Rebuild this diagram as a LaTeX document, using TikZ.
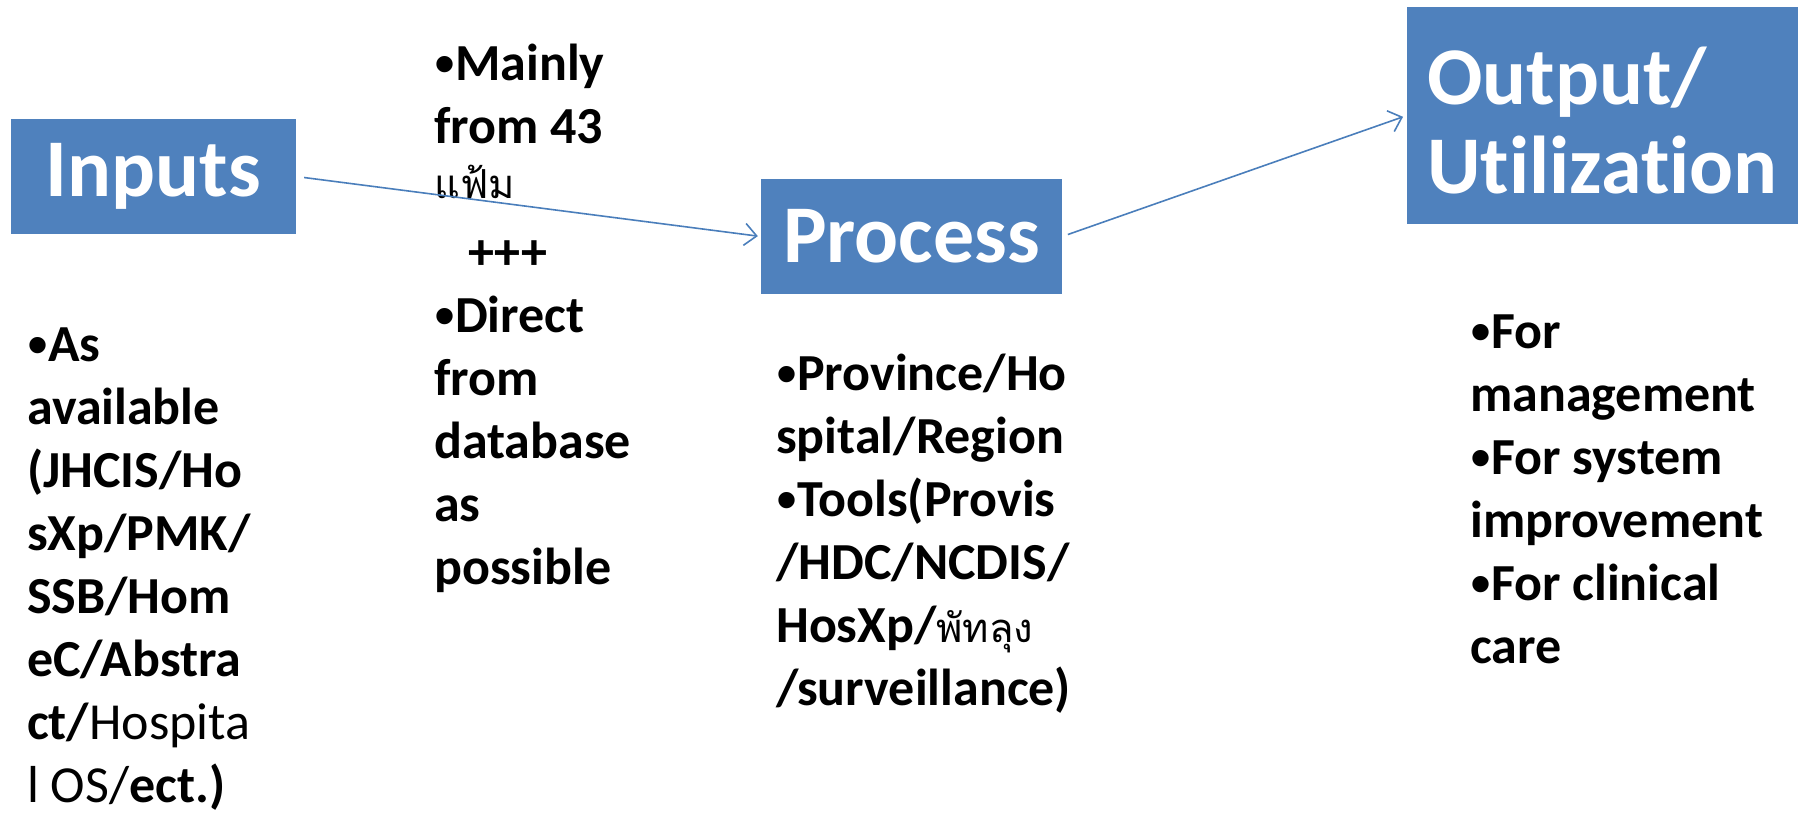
\documentclass[tikz,border=0pt]{standalone}
\usepackage{fontspec}
\setmainfont{Carlito}[Ligatures=NoCommon]
\newfontfamily\bulletfont{Liberation Sans}
\newfontfamily\thai[Script=Thai]{Loma}
\usetikzlibrary{arrows.meta}
\definecolor{boxblue}{HTML}{4F81BD}
\definecolor{lineblue}{HTML}{4A7EBB}
\tikzset{
 titlebox/.style={fill=boxblue, draw=none, text=white, font=\fontsize{82}{89}\selectfont\bfseries, align=left, inner sep=0pt},
 titletext/.style={text=white, font=\fontsize{82}{89}\selectfont\bfseries, align=left, inner sep=0pt},
 bullettext/.style={anchor=base west, inner sep=0pt, font=\fontsize{52}{63}\selectfont\bfseries},
 flow/.style={draw=lineblue, line width=1.6pt, -{Straight Barb[length=12pt,width=22pt,line width=1.6pt]}},
}
\newcommand\mylines[1]{\vtop{\baselineskip=63pt\lineskiplimit=-200pt\lineskip=0pt #1}}
\newcommand\thaitext[1]{{\thai\mdseries\fontsize{40}{42}\selectfont #1}}
\newcommand\bul{\raisebox{-4pt}{\bulletfont\mdseries\fontsize{60}{63}\selectfont •}}
\begin{document}
\begin{tikzpicture}[x=1pt,y=-1pt]
\useasboundingbox (0,0) rectangle (1800,812);
\node[titlebox, minimum width=285pt, minimum height=115pt] (inputs) at (153.5,176.5) {Inputs};
\node[titlebox, minimum width=301pt, minimum height=115pt] (process) at (911.5,236.5) {Process};
\node[titlebox, minimum width=391pt, minimum height=217pt] (output) at (1602.5,115.5) {};
\node[titletext] (outputlabel) at ([yshift=-5pt]output.center) {Output/\\Utilization};

\node[bullettext] (intext) at (27,361) {\mylines{%
\hbox{\bul As}\hbox{available}\hbox{(JHCIS/Ho}\hbox{sXp/PMK/}\hbox{SSB/Hom}\hbox{eC/Abstra}%
\hbox{ct/{\mdseries Hospita}}\hbox{{\mdseries l OS/}ect.)}}};

\node[bullettext] (source) at (434,80) {\mylines{%
\hbox{\bul Mainly}\hbox{from 43}\hbox{\raisebox{8pt}{\thaitext{แฟ้ม}}}\hbox{\hspace{34pt}+++}\hbox{\bul Direct}\hbox{from}\hbox{database}\hbox{as}\hbox{possible}}};

\node[bullettext] (proctext) at (776,390) {\mylines{%
\hbox{\bul Province/Ho}\hbox{spital/Region}\hbox{\bul Tools(Provis}\hbox{/HDC/NCDIS/}\hbox{HosXp/\thaitext{พัทลุง}}\hbox{/surveillance)}}};

\node[bullettext] (outtext) at (1470,348) {\mylines{%
\hbox{\bul For}\hbox{management}\hbox{\bul For system}\hbox{improvement}\hbox{\bul For clinical}\hbox{care}}};

\draw[flow, shorten <=8pt, shorten >=3pt] (inputs.east) -- (process.west);
\draw[flow, shorten <=6pt, shorten >=4pt] (process.east) -- (output.west);
\end{tikzpicture}
\end{document}
